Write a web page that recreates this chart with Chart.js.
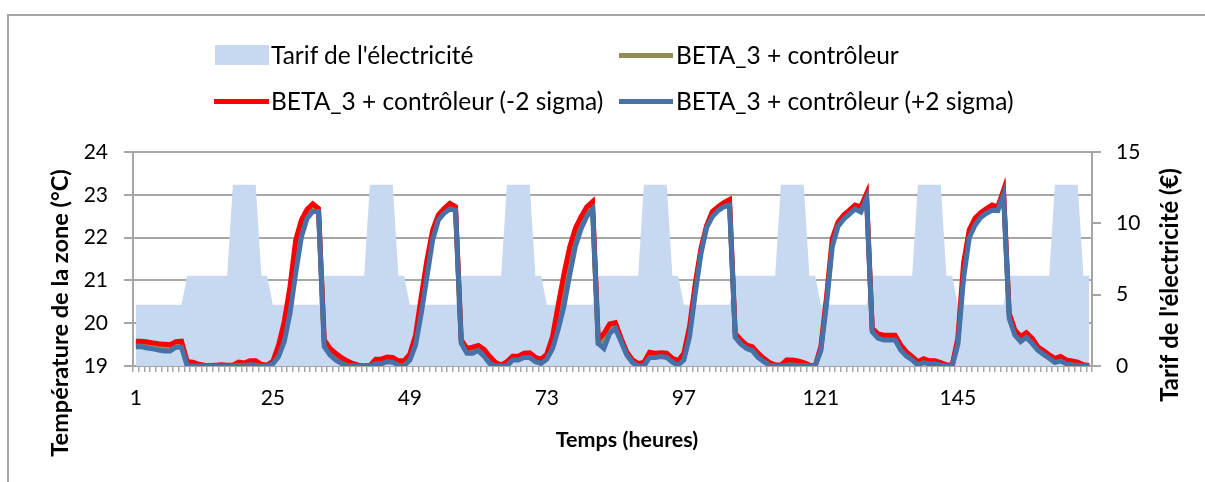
<!DOCTYPE html>
<html>
<head>
<meta charset="utf-8">
<script src="https://cdn.jsdelivr.net/npm/chart.js@4.4.1/dist/chart.umd.min.js"></script>
<style>
  body { margin: 0; background: #fff; }
  #wrap { position: relative; width: 1205px; height: 482px; overflow: hidden; font-family: Lato, sans-serif; }
  #cadre { position: absolute; left: 7px; top: 14px; width: 1300px; height: 600px; border: 2px solid #A6A6A6; box-sizing: border-box; }
  canvas { position: absolute; left: 0; top: 0; }
  .leg { position: absolute; font-size: 24.5px; line-height: 28px; color: #000; white-space: nowrap; }
  .sw { position: absolute; }
</style>
</head>
<body>
<div id="wrap">
  <div id="cadre"></div>
  <canvas id="myChart" width="1205" height="482"></canvas>
  <!-- légende 2 x 2 comme dans Excel -->
  <div class="sw" style="left:215px;top:45px;width:54px;height:20px;background:#C6D9F1"></div>
  <div class="leg" style="left:271px;top:41px">Tarif de l'électricité</div>
  <div class="sw" style="left:619px;top:53px;width:54px;height:5px;background:#948A54"></div>
  <div class="leg" style="left:676px;top:41px">BETA_3 + contrôleur</div>
  <div class="sw" style="left:214px;top:99px;width:55px;height:5px;background:#FF0000"></div>
  <div class="leg" style="left:271px;top:87px">BETA_3 + contrôleur (-2 sigma)</div>
  <div class="sw" style="left:619px;top:99px;width:54px;height:5px;background:#4672A8"></div>
  <div class="leg" style="left:676px;top:87px">BETA_3 + contrôleur (+2 sigma)</div>
</div>
<script>
// heures 1..168
var heures = Array.from({length: 168}, function(_, i) { return String(i + 1); });
var tickLabels = ['1', '25', '49', '73', '97', '121', '145'];

// tarif de l'électricité (axe droit)
var tarif = [
  4.3,4.3,4.3,4.3,4.3,4.3,4.3,4.3,4.3, 6.33,6.33,6.33,6.33,6.33,6.33,6.33,6.33, 12.7,12.7,12.7,12.7,12.7, 6.33,6.33,
  4.3,4.3,4.3,4.3,4.3,4.3,4.3,4.3,4.3, 6.33,6.33,6.33,6.33,6.33,6.33,6.33,6.33, 12.7,12.7,12.7,12.7,12.7, 6.33,6.33,
  4.3,4.3,4.3,4.3,4.3,4.3,4.3,4.3,4.3, 6.33,6.33,6.33,6.33,6.33,6.33,6.33,6.33, 12.7,12.7,12.7,12.7,12.7, 6.33,6.33,
  4.3,4.3,4.3,4.3,4.3,4.3,4.3,4.3,4.3, 6.33,6.33,6.33,6.33,6.33,6.33,6.33,6.33, 12.7,12.7,12.7,12.7,12.7, 6.33,6.33,
  4.3,4.3,4.3,4.3,4.3,4.3,4.3,4.3,4.3, 6.33,6.33,6.33,6.33,6.33,6.33,6.33,6.33, 12.7,12.7,12.7,12.7,12.7, 6.33,6.33,
  4.3,4.3,4.3,4.3,4.3,4.3,4.3,4.3,4.3, 6.33,6.33,6.33,6.33,6.33,6.33,6.33,6.33, 12.7,12.7,12.7,12.7,12.7, 6.33,6.33,
  4.3,4.3,4.3,4.3,4.3,4.3,4.3,4.3,4.3, 6.33,6.33,6.33,6.33,6.33,6.33,6.33,6.33, 12.7,12.7,12.7,12.7,12.7, 6.33,6.33
];

// température de la zone (°C)
var beta3 = [
  19.52,19.52,19.49,19.47,19.45,19.43,19.42,19.50,19.51,19.05,19.04,19.02,19.01,19.00,19.01,19.01,19.01,19.01,19.05,19.04,19.07,19.07,19.02,19.01,
  19.08,19.35,19.80,20.54,21.55,22.21,22.55,22.70,22.64,19.53,19.33,19.22,19.13,19.07,19.03,19.01,19.00,19.00,19.10,19.10,19.15,19.14,19.07,19.06,
  19.21,19.60,20.42,21.28,22.06,22.47,22.62,22.73,22.68,19.57,19.35,19.37,19.42,19.31,19.14,19.04,19.01,19.05,19.18,19.18,19.25,19.25,19.15,19.11,
  19.22,19.55,20.15,20.78,21.46,22.01,22.35,22.61,22.75,19.57,19.58,19.87,19.95,19.61,19.30,19.11,19.03,19.04,19.26,19.25,19.26,19.25,19.13,19.07,
  19.22,19.80,20.81,21.69,22.26,22.55,22.67,22.77,22.82,19.71,19.56,19.45,19.40,19.25,19.14,19.05,19.01,19.01,19.08,19.08,19.06,19.04,19.01,19.00,
  19.40,20.54,21.88,22.31,22.48,22.60,22.71,22.66,22.97,19.84,19.70,19.66,19.66,19.66,19.43,19.28,19.18,19.06,19.12,19.08,19.08,19.05,19.01,19.01,
  19.57,21.22,22.09,22.37,22.52,22.62,22.70,22.67,23.05,20.17,19.78,19.63,19.72,19.59,19.41,19.31,19.22,19.13,19.17,19.10,19.07,19.05,19.01,19.00
];
var beta3Moins2s = [
  19.58,19.58,19.56,19.54,19.52,19.51,19.50,19.57,19.58,19.10,19.09,19.04,19.02,19.01,19.02,19.03,19.02,19.02,19.09,19.07,19.12,19.12,19.04,19.02,
  19.11,19.49,20.04,20.85,21.94,22.41,22.66,22.79,22.68,19.61,19.41,19.30,19.20,19.12,19.06,19.02,19.00,19.01,19.16,19.16,19.21,19.20,19.12,19.12,
  19.28,19.72,20.62,21.48,22.18,22.53,22.68,22.80,22.72,19.61,19.41,19.44,19.48,19.39,19.22,19.08,19.02,19.10,19.23,19.23,19.30,19.31,19.20,19.16,
  19.28,19.69,20.43,21.15,21.78,22.22,22.49,22.72,22.84,19.61,19.76,19.98,20.01,19.65,19.33,19.14,19.06,19.08,19.32,19.30,19.31,19.30,19.18,19.12,
  19.30,19.92,20.93,21.75,22.29,22.61,22.72,22.82,22.89,19.76,19.61,19.49,19.45,19.30,19.18,19.08,19.03,19.02,19.14,19.14,19.12,19.08,19.02,19.00,
  19.45,20.62,21.98,22.36,22.53,22.64,22.76,22.72,23.03,19.88,19.75,19.72,19.72,19.72,19.49,19.33,19.22,19.10,19.17,19.12,19.12,19.08,19.03,19.02,
  19.65,21.40,22.18,22.45,22.58,22.68,22.76,22.72,23.11,20.23,19.84,19.69,19.78,19.65,19.45,19.36,19.26,19.18,19.22,19.14,19.12,19.09,19.03,19.01
];
var beta3Plus2s = [
  19.45,19.45,19.42,19.40,19.37,19.35,19.35,19.44,19.44,19.00,19.00,19.00,19.00,19.00,19.00,19.00,19.00,19.00,19.02,19.02,19.03,19.02,19.00,19.00,
  19.05,19.22,19.57,20.23,21.17,22.02,22.45,22.61,22.61,19.45,19.26,19.14,19.06,19.02,19.00,19.00,19.00,19.00,19.05,19.05,19.10,19.09,19.02,19.01,
  19.14,19.49,20.23,21.09,21.95,22.41,22.57,22.67,22.64,19.53,19.30,19.30,19.36,19.23,19.06,19.00,19.00,19.00,19.14,19.14,19.20,19.20,19.10,19.06,
  19.16,19.41,19.86,20.40,21.13,21.80,22.21,22.50,22.66,19.53,19.41,19.76,19.88,19.57,19.26,19.08,19.00,19.00,19.20,19.20,19.22,19.20,19.09,19.02,
  19.14,19.69,20.70,21.63,22.24,22.49,22.63,22.72,22.76,19.67,19.51,19.41,19.36,19.20,19.10,19.02,19.00,19.00,19.02,19.02,19.01,19.01,19.00,19.00,
  19.36,20.46,21.79,22.26,22.43,22.55,22.67,22.60,22.92,19.80,19.65,19.61,19.61,19.61,19.37,19.23,19.14,19.02,19.08,19.05,19.05,19.02,19.00,19.00,
  19.50,21.05,22.00,22.29,22.47,22.57,22.64,22.63,23.00,20.11,19.72,19.57,19.67,19.53,19.37,19.27,19.18,19.08,19.12,19.05,19.03,19.02,19.00,19.00
];

var gris = '#A6A6A6';
var policeTicks = { family: 'Lato', size: 21 };

// titres des axes dessinés à la main (titre de droite tourné comme dans Excel)
var titresAxes = {
  id: 'titresAxes',
  afterDraw: function(chart) {
    var ctx = chart.ctx;
    ctx.save();
    ctx.fillStyle = '#000';
    ctx.textAlign = 'center';
    ctx.textBaseline = 'middle';
    ctx.font = 'bold 21.5px Lato';
    ctx.fillText('Temps (heures)', 627, 440);
    ctx.font = 'bold 23.5px Lato';
    ctx.translate(60, 313);
    ctx.rotate(-Math.PI / 2);
    ctx.fillText('Température de la zone (°C)', 0, 0);
    ctx.restore();
    ctx.save();
    ctx.font = 'bold 23.8px Lato';
    ctx.fillStyle = '#000';
    ctx.textAlign = 'center';
    ctx.textBaseline = 'middle';
    ctx.translate(1170, 285);
    ctx.rotate(-Math.PI / 2);
    ctx.fillText("Tarif de l'électricité (€)", 0, 0);
    ctx.restore();
  }
};

var ctx = document.getElementById('myChart').getContext('2d');
var myChart = new Chart(ctx, {
  type: 'line',
  data: {
    labels: heures,
    datasets: [{
      label: 'BETA_3 + contrôleur (+2 sigma)',
      data: beta3Plus2s,
      borderColor: '#4672A8',
      borderWidth: 5,
      pointRadius: 0,
      tension: 0,
      fill: false,
      yAxisID: 'y',
      order: 0
    }, {
      label: 'BETA_3 + contrôleur (-2 sigma)',
      data: beta3Moins2s,
      borderColor: '#FF0000',
      borderWidth: 5,
      pointRadius: 0,
      tension: 0,
      fill: false,
      yAxisID: 'y',
      order: 1
    }, {
      label: 'BETA_3 + contrôleur',
      data: beta3,
      borderColor: '#948A54',
      borderWidth: 5,
      pointRadius: 0,
      tension: 0,
      fill: false,
      yAxisID: 'y',
      order: 2
    }, {
      label: "Tarif de l'électricité",
      data: tarif,
      borderColor: 'rgba(0,0,0,0)',
      borderWidth: 0,
      backgroundColor: '#C6D9F1',
      pointRadius: 0,
      tension: 0,
      fill: 'origin',
      yAxisID: 'y1',
      order: 3
    }]
  },
  options: {
    responsive: false,
    animation: false,
    layout: { padding: { top: 152, left: 0, right: 0, bottom: 0 } },
    plugins: { legend: { display: false }, tooltip: { enabled: false } },
    scales: {
      x: {
        offset: true,
        grid: { offset: true, drawOnChartArea: false, drawTicks: true, tickLength: 6, color: gris, lineWidth: 1.5 },
        border: { color: gris, width: 2 },
        ticks: {
          autoSkip: false, maxRotation: 0, minRotation: 0, padding: 14, color: '#000', font: policeTicks,
          callback: function(v) {
            var l = this.getLabelForValue(v);
            return tickLabels.indexOf(l) >= 0 ? l : '';
          }
        },
        afterFit: function(s) { s.height = 116; }
      },
      y: {
        position: 'left',
        min: 19, max: 24,
        ticks: { stepSize: 1, padding: 16, color: '#000', font: policeTicks },
        grid: { color: gris, lineWidth: 2, tickLength: 9 },
        border: { color: gris, width: 2 },
        afterFit: function(s) { s.width = 133; }
      },
      y1: {
        position: 'right',
        min: 0, max: 15,
        ticks: { stepSize: 5, padding: 15, color: '#000', font: policeTicks },
        grid: { drawOnChartArea: false, color: gris, lineWidth: 2, tickLength: 9 },
        border: { color: gris, width: 2 },
        afterFit: function(s) { s.width = 113; }
      }
    }
  },
  plugins: [titresAxes]
});
</script>
</body>
</html>
